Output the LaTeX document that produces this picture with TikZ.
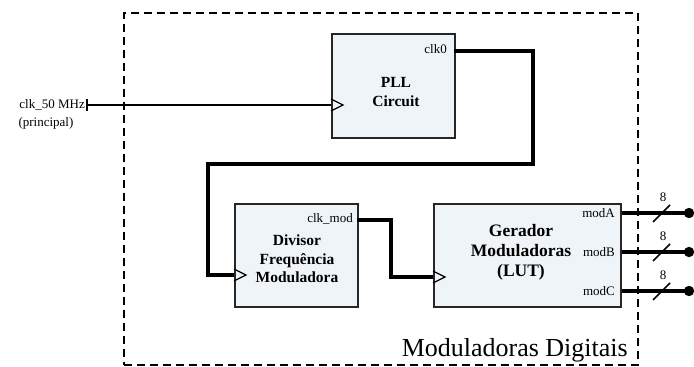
\documentclass[tikz,border=0pt]{standalone}
\usepackage{fontspec}
\setmainfont{Liberation Serif}
\usetikzlibrary{arrows.meta, positioning}
\definecolor{blockfill}{HTML}{EEF4F8}
\tikzset{
  block/.style={draw=black!85, line width=1.6pt, fill=blockfill, anchor=north west, inner sep=0pt},
  blocktext/.style={font=\bfseries\fontsize{15.5}{19.5}\selectfont, align=center, inner sep=0pt},
  port/.style={font=\fontsize{13}{14}\selectfont, inner sep=0pt, anchor=east},
  wire/.style={line width=3.2pt, line join=miter},
  bus/.style={line width=4.5pt, -{Circle[length=10pt, width=10pt]}},
  clkmark/.style={line width=1.3pt, line join=miter}
}

\begin{document}
\begin{tikzpicture}[x=1pt, y=-1pt]
\useasboundingbox (0,0) rectangle (694,367);
% frame
\node (frame) at (123,12) [anchor=north west, draw, line width=1.8pt, dash pattern=on 8pt off 5pt, minimum width=514pt, minimum height=352pt, inner sep=0pt] {};
\node (title) at (628,356) [anchor=base east, font=\fontsize{26}{28}\selectfont, inner sep=0pt] {Moduladoras Digitais};
% blocks
\node (pll) at (331,33) [block, minimum width=123pt, minimum height=104pt] {};
\node (div) at (234,203) [block, minimum width=123pt, minimum height=103pt] {};
\node (gen) at (433,203) [block, minimum width=187pt, minimum height=103pt] {};
\node (pll-txt) at (396,92) [blocktext] {PLL\\Circuit};
\node (div-txt) at (297,259) [blocktext, font=\bfseries\fontsize{15.5}{18.5}\selectfont] {Divisor\\Frequência\\Moduladora};
\node (gen-txt) at (521,252) [blocktext, font=\bfseries\fontsize{17.5}{20}\selectfont] {Gerador\\Moduladoras\\(LUT)};
% ports
\node (clk0) at (447,49) [port] {clk0};
\node (clkmod) at (353,219) [port] {clk\_mod};
\node (moda) at (615,213) [port] {modA};
\node (modb) at (615,252) [port] {modB};
\node (modc) at (615,291) [port] {modC};
\coordinate (pll-clk) at (331,105);
\coordinate (div-clk) at (234,275);
\coordinate (gen-clk) at (433,277);
\coordinate (pll-out) at (454,51);
\coordinate (div-out) at (357,220);
% clock marks
\draw [clkmark] (pll-clk) ++(0,-6) -- ++(12,6) -- ++(-12,6);
\draw [clkmark] (div-clk) ++(0,-6) -- ++(12,6) -- ++(-12,6);
\draw [clkmark] (gen-clk) ++(0,-6) -- ++(12,6) -- ++(-12,6);
% input
\coordinate (clk-in) at (87,105);
\node (in-lbl) at (85,105) [port] {clk\_50 MHz};
\node (in-sub) at (46,123) [font=\fontsize{13}{14}\selectfont, inner sep=0pt] {(principal)};
\draw [line width=1.6pt] (87,99) -- (87,111);
\draw [line width=1.6pt] (clk-in) -- (pll-clk);
% wires
\draw [wire] (pll-out) -- (533,51) -- (533,164) -- (208,164) -- (208,275) -- (div-clk);
\draw [wire] (div-out) -- (391,220) -- (391,277) -- (gen-clk);
% buses
\coordinate (out-a) at (694,213);
\coordinate (out-b) at (694,252);
\coordinate (out-c) at (694,291);
\draw [bus] (gen.east |- moda) -- (out-a);
\draw [bus] (gen.east |- modb) -- (out-b);
\draw [bus] (gen.east |- modc) -- (out-c);
\draw [line width=1.6pt] (653,222) -- (670,205);
\draw [line width=1.6pt] (653,261) -- (670,244);
\draw [line width=1.6pt] (653,300) -- (670,283);
\node (wa) at (663,197) [font=\fontsize{13}{14}\selectfont, inner sep=0pt] {8};
\node (wb) at (663,236) [font=\fontsize{13}{14}\selectfont, inner sep=0pt] {8};
\node (wc) at (663,275) [font=\fontsize{13}{14}\selectfont, inner sep=0pt] {8};
\end{tikzpicture}
\end{document}
